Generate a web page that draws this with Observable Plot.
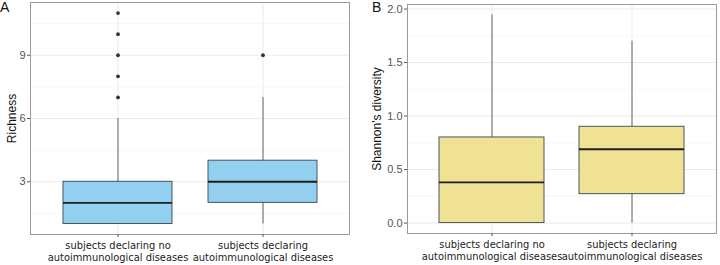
<!DOCTYPE html>
<html>
<head>
<meta charset="utf-8">
<script src="https://cdn.jsdelivr.net/npm/d3@7"></script>
<script src="https://cdn.jsdelivr.net/npm/@observablehq/plot@0.6"></script>
<style>
  html, body { margin: 0; padding: 0; background: #fff; }
  #wrap { position: relative; width: 720px; height: 265px; display: flex; }
  .panel { position: relative; width: 360px; height: 265px; }
  .tag { position: absolute; font-family: "Liberation Sans", Arial, sans-serif; font-size: 14px; line-height: 14px; color: #111; top: 0px; }
</style>
</head>
<body>
<div id="wrap">
  <div class="panel" id="pa"><div class="tag" style="left:0px">A</div></div>
  <div class="panel" id="pb"><div class="tag" style="left:12px">B</div></div>
</div>
<script>
// Categories
const categories = ["no", "yes"];
const categoryLabels = ["subjects declaring no\nautoimmunological diseases", "subjects declaring\nautoimmunological diseases"];

// Panel A: Richness box summaries (min whisker, Q1, median, Q3, max whisker)
const richLow    = [1, 1];
const richQ1     = [1, 2];
const richMedian = [2, 3];
const richQ3     = [3, 4];
const richHigh   = [6, 7];
const richOutliers = [[7, 8, 9, 10, 11], [9]];
const richTicks = [3, 6, 9];
const richMinor = [1.5, 4.5, 7.5, 10.5];

// Panel B: Shannon's diversity box summaries
const shanLow    = [0, 0];
const shanQ1     = [0, 0.27];
const shanMedian = [0.38, 0.69];
const shanQ3     = [0.80, 0.90];
const shanHigh   = [1.945, 1.70];
const shanOutliers = [[], []];
const shanTicks = [0, 0.5, 1.0, 1.5, 2.0];
const shanMinor = [0.25, 0.75, 1.25, 1.75];

function boxTable(low, q1, med, q3, high) {
  return categories.map((c, i) => ({cat: c, low: low[i], q1: q1[i], med: med[i], q3: q3[i], high: high[i]}));
}
function outlierTable(outs) {
  return categories.flatMap((c, i) => outs[i].map(v => ({cat: c, v})));
}

function makePanel({rows, outs, ticks, minor, domain, fill, label, tickFmt, margins, labelDx}) {
  const labelMap = new Map(categories.map((c, i) => [c, categoryLabels[i]]));
  return Plot.plot({
    width: 360,
    height: 265,
    marginLeft: margins[0], marginRight: margins[1], marginTop: margins[2], marginBottom: margins[3],
    style: {fontFamily: "'Liberation Sans', Arial, sans-serif", background: "white"},
    x: {domain: categories, paddingInner: 0.25, paddingOuter: 0.225, axis: null},
    y: {domain, axis: null},
    marks: [
      Plot.ruleY(minor, {stroke: "#f2f2f2", strokeWidth: 0.6}),
      Plot.ruleY(ticks, {stroke: "#ebebeb", strokeWidth: 1}),
      Plot.ruleX(categories, {x: d => d, stroke: "#ebebeb", strokeWidth: 1}),
      Plot.ruleX(rows, {x: "cat", y1: "low", y2: "high", stroke: "#555", strokeWidth: 0.9}),
      Plot.barY(rows, {x: "cat", y1: "q1", y2: "q3", fill, stroke: "#3b4650", strokeWidth: 0.9}),
      Plot.tickY(rows, {x: "cat", y: "med", stroke: "#1e1e1e", strokeWidth: 1.8}),
      Plot.dot(outs, {x: "cat", y: "v", r: 1.9, fill: "#333", stroke: null}),
      Plot.frame({stroke: "#9a9a9a", strokeWidth: 1}),
      Plot.axisY({ticks, tickFormat: tickFmt, tickSize: 3, tickPadding: 2, stroke: "#555", fill: "#555", fontSize: 11, label: null}),
      Plot.text([label], {frameAnchor: "left", text: d => d, rotate: -90, dx: labelDx, fontSize: 12, fill: "#111", textAnchor: "middle"}),
      Plot.axisX({tickSize: 3, tickPadding: 3, stroke: "#555", fill: "#222", fontSize: 9.9,
        fontFamily: "'DejaVu Sans', Verdana, sans-serif", lineHeight: 1.24,
        tickFormat: c => labelMap.get(c), label: null})
    ]
  });
}

const chartA = makePanel({
  rows: boxTable(richLow, richQ1, richMedian, richQ3, richHigh),
  outs: outlierTable(richOutliers),
  ticks: richTicks, minor: richMinor,
  domain: [0.5, 11.5],
  fill: "#93d0f0",
  label: "Richness",
  tickFmt: d3.format("d"),
  margins: [30, 11, 2, 31],
  labelDx: -18
});
const chartB = makePanel({
  rows: boxTable(shanLow, shanQ1, shanMedian, shanQ3, shanHigh),
  outs: outlierTable(shanOutliers),
  ticks: shanTicks, minor: shanMinor,
  domain: [-0.0973, 2.0423],
  fill: "#efe294",
  label: "Shannon's diversity",
  tickFmt: d3.format(".1f"),
  margins: [47, 4, 4, 32],
  labelDx: -30
});
document.getElementById("pa").prepend(chartA);
document.getElementById("pb").prepend(chartB);
</script>
</body>
</html>
